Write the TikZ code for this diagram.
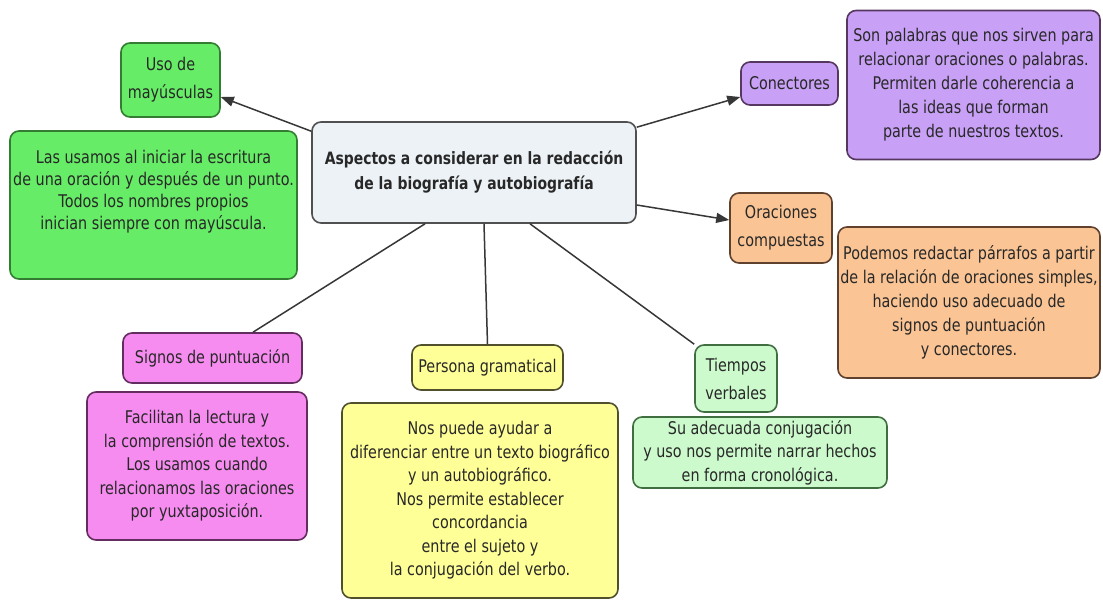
\documentclass[tikz,border=0pt]{standalone}
\usepackage{fontspec}
\setmainfont{DejaVu Sans}[FakeStretch=0.82]
\usetikzlibrary{arrows.meta}
\definecolor{gF}{RGB}{102,236,102}\definecolor{gD}{RGB}{50,125,50}
\definecolor{cF}{RGB}{236,242,245}\definecolor{cD}{RGB}{80,80,80}
\definecolor{pF}{RGB}{200,160,246}\definecolor{pD}{RGB}{85,55,95}
\definecolor{oF}{RGB}{250,196,148}\definecolor{oD}{RGB}{95,65,45}
\definecolor{kF}{RGB}{246,140,240}\definecolor{kD}{RGB}{100,45,95}
\definecolor{yF}{RGB}{255,255,152}\definecolor{yD}{RGB}{80,80,45}
\definecolor{lF}{RGB}{204,250,204}\definecolor{lD}{RGB}{65,110,65}
\definecolor{txt}{RGB}{40,40,40}
\definecolor{ln}{RGB}{55,55,55}
\tikzset{
  box/.style={draw, rounded corners=9pt, line width=1.6pt, align=center, inner sep=2pt,
    text=txt, font=\fontsize{17.5}{23.5}\selectfont},
  lab/.style={box, font=\fontsize{17.5}{28}\selectfont},
  conn/.style={draw=ln, line width=1.5pt},
  arr/.style={conn, -{Triangle[length=13pt,width=10pt]}},
}
\begin{document}
\begin{tikzpicture}[x=1pt,y=-1pt]
\useasboundingbox (0,0) rectangle (1103,602);
\node[box, fill=cF, draw=cD, minimum width=324pt, minimum height=101pt, font=\bfseries\fontsize{17}{25}\selectfont] (central) at (474,172.5)
  {Aspectos a considerar en la redacción\\de la biografía y autobiografía};
\node[lab, fill=gF, draw=gD, minimum width=99pt, minimum height=74pt] (uso) at (170.5,80) {Uso de\\mayúsculas};
\node[box, fill=gF, draw=gD, minimum width=287pt, minimum height=148pt, text depth=30pt, font=\fontsize{17.5}{22}\selectfont] (usoD) at (153.5,205)
  {Las usamos al iniciar la escritura\\de una oración y después de un punto.\\Todos los nombres propios\\inician siempre con mayúscula.};
\node[lab, fill=pF, draw=pD, minimum width=97pt, minimum height=43pt] (con) at (789.5,83.5) {Conectores};
\node[box, fill=pF, draw=pD, minimum width=253pt, minimum height=149pt, font=\fontsize{17.5}{24}\selectfont] (conD) at (973.5,85)
  {Son palabras que nos sirven para\\relacionar oraciones o palabras.\\Permiten darle coherencia a\\las ideas que forman\\parte de nuestros textos.};
\node[lab, fill=oF, draw=oD, minimum width=102pt, minimum height=70pt] (ora) at (781,228) {Oraciones\\compuestas};
\node[box, fill=oF, draw=oD, minimum width=262pt, minimum height=151pt, font=\fontsize{17.5}{24}\selectfont] (oraD) at (969,302.5)
  {Podemos redactar párrafos a partir\\de la relación de oraciones simples,\\haciendo uso adecuado de\\signos de puntuación\\y conectores.};
\node[lab, fill=kF, draw=kD, minimum width=179pt, minimum height=50pt] (sig) at (212.5,358) {Signos de puntuación};
\node[box, fill=kF, draw=kD, minimum width=220pt, minimum height=148pt] (sigD) at (197,466)
  {Facilitan la lectura y\\la comprensión de textos.\\Los usamos cuando\\relacionamos las oraciones\\por yuxtaposición.};
\node[lab, fill=yF, draw=yD, minimum width=151pt, minimum height=45pt] (per) at (487.5,367.5) {Persona gramatical};
\node[box, fill=yF, draw=yD, minimum width=276pt, minimum height=195pt] (perD) at (480,500.5)
  {Nos puede ayudar a\\diferenciar entre un texto biográfico\\y un autobiográfico.\\Nos permite establecer\\concordancia\\entre el sujeto y\\la conjugación del verbo.};
\node[lab, fill=lF, draw=lD, minimum width=82pt, minimum height=67pt] (tie) at (736,378.5) {Tiempos\\verbales};
\node[box, fill=lF, draw=lD, minimum width=254pt, minimum height=71pt] (tieD) at (760,452.5)
  {Su adecuada conjugación\\y uso nos permite narrar hechos\\en forma cronológica.};
\draw[arr] ([yshift=-10pt]central.north west) -- ([yshift=-17pt]uso.east);
\draw[arr] ([yshift=-6pt]central.north east) -- ([yshift=-13.5pt]con.west);
\draw[arr] ([yshift=-32.5pt]central.east) -- ([yshift=8pt]ora.west);
\draw[conn] ([xshift=-49pt]central.south) -- ([xshift=40.5pt]sig.north);
\draw[conn] ([xshift=10pt]central.south) -- (per.north);
\draw[conn] ([xshift=56pt]central.south) -- (tie.north west);
\end{tikzpicture}
\end{document}
